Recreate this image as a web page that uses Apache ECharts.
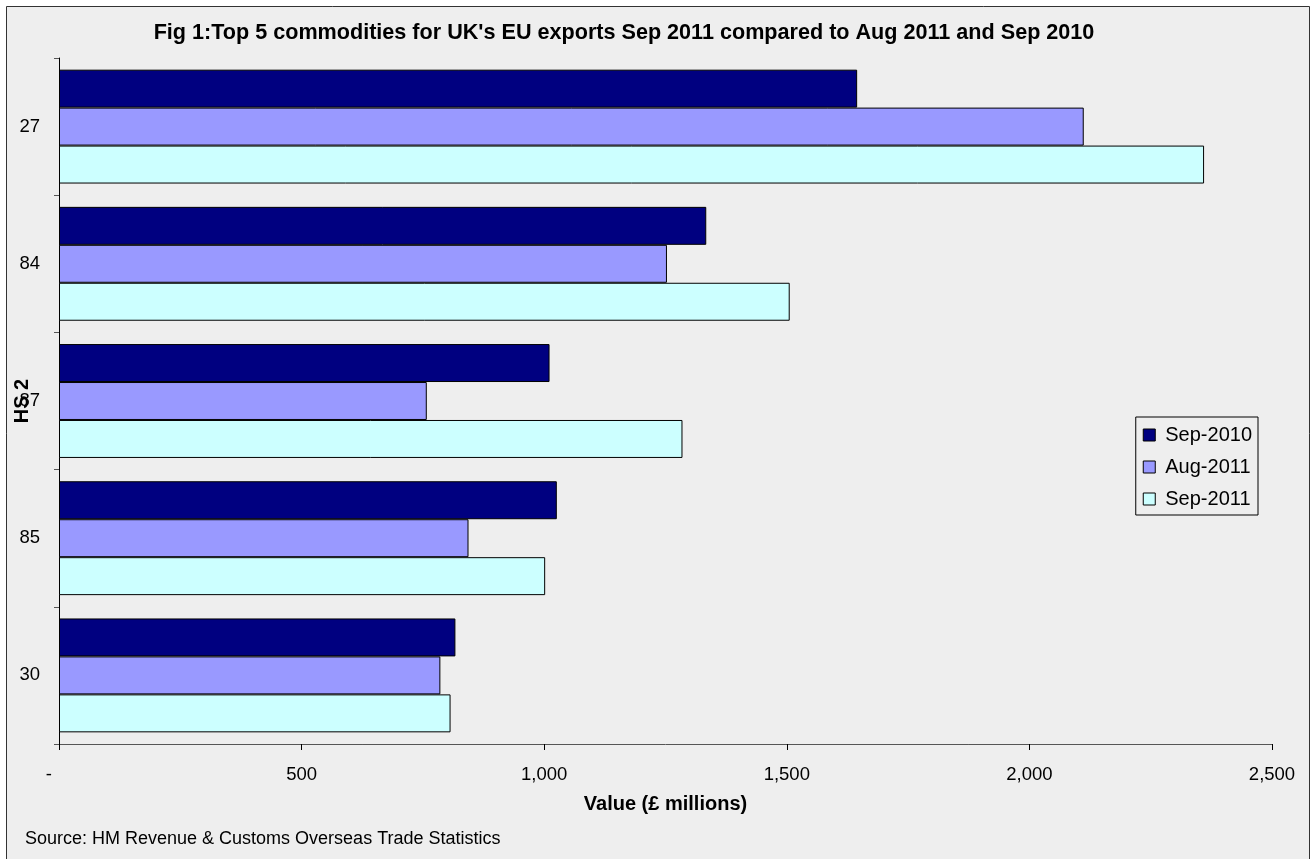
<!DOCTYPE html>
<html>
<head>
<meta charset="utf-8">
<script src="https://cdn.jsdelivr.net/npm/echarts@6/dist/echarts.min.js"></script>
<style>
html, body { margin: 0; padding: 0; background: #fff; }
#report { width: 1312px; height: 859px; }
</style>
</head>
<body>
<div id="report"></div>
<script>
// HS2 commodity codes, top to bottom
var categories = ['27', '84', '87', '85', '30'];
var seriesNames = ['Sep-2010', 'Aug-2011', 'Sep-2011'];
// values in £ millions
var sep2010 = [1645, 1334, 1011, 1026, 817];
var aug2011 = [2112, 1253, 758, 844, 786];
var sep2011 = [2360, 1506, 1285, 1002, 807];
var xTicks = [0, 500, 1000, 1500, 2000, 2500];

var colors = ['#000080', '#9999ff', '#ccffff'];
var font = 'Liberation Sans, Arial, sans-serif';

var myChart = echarts.init(document.getElementById('report'));

function makeSeries(name, data, i) {
    return {
        name: name,
        type: 'bar',
        data: data,
        barGap: '0%',
        barCategoryGap: '17%',
        itemStyle: { color: colors[i], borderColor: '#000', borderWidth: 1 },
        emphasis: { disabled: true }
    };
}

var option = {
    backgroundColor: '#ffffff',
    animation: false,
    textStyle: { fontFamily: font },
    graphic: [
        {
            type: 'rect', z: -10, silent: true,
            shape: { x: 6.5, y: 6.5, width: 1303, height: 870 },
            style: { fill: '#eeeeee', stroke: '#333', lineWidth: 1 }
        },
        {
            type: 'text', left: 25, top: 830,
            style: { text: 'Source: HM Revenue & Customs Overseas Trade Statistics', font: '18px ' + font, fill: '#000' }
        }
    ],
    title: {
        text: "Fig 1:Top 5 commodities for UK's EU exports Sep 2011 compared to Aug 2011 and Sep 2010",
        left: 619, textAlign: 'center', top: 17,
        textStyle: { fontSize: 21.6, fontWeight: 'bold', color: '#000', fontFamily: font }
    },
    legend: {
        orient: 'vertical',
        right: 54, top: 417,
        data: seriesNames,
        backgroundColor: '#eeeeee',
        borderColor: '#000', borderWidth: 1,
        padding: [8, 6, 6, 7],
        itemGap: 12,
        itemWidth: 12, itemHeight: 12,
        icon: 'rect',
        itemStyle: { borderColor: '#000', borderWidth: 1 },
        textStyle: { fontSize: 20, color: '#000', fontFamily: font, padding: [0, 0, 0, 5] }
    },
    grid: { left: 59, right: 40, top: 58, bottom: 115, containLabel: false, outerBoundsMode: 'none' },
    xAxis: {
        type: 'value',
        min: 0, max: 2500, interval: 500,
        name: 'Value (£ millions)',
        nameLocation: 'middle', nameGap: 50, nameMoveOverlap: false,
        nameTextStyle: { fontSize: 20, fontWeight: 'bold', color: '#000', fontFamily: font },
        axisLine: { show: true, lineStyle: { color: '#555', width: 1 } },
        axisTick: { show: true, length: 6, lineStyle: { color: '#000' } },
        splitLine: { show: false },
        axisLabel: {
            fontSize: 18.5, color: '#000', margin: 21, fontFamily: font,
            formatter: function (v) { return v === 0 ? '-    ' : v.toLocaleString('en-GB'); }
        }
    },
    yAxis: {
        type: 'category',
        data: categories,
        inverse: true,
        name: 'HS 2',
        nameLocation: 'middle', nameGap: 27, nameRotate: 90, nameMoveOverlap: false,
        nameTextStyle: { fontSize: 20, fontWeight: 'bold', color: '#000', fontFamily: font },
        axisLine: { show: true, lineStyle: { color: '#000', width: 1 } },
        axisTick: { show: true, length: 5, inside: false, lineStyle: { color: '#555' } },
        axisLabel: { fontSize: 18.5, color: '#000', margin: 19, fontFamily: font }
    },
    series: [
        makeSeries(seriesNames[0], sep2010, 0),
        makeSeries(seriesNames[1], aug2011, 1),
        makeSeries(seriesNames[2], sep2011, 2)
    ]
};
myChart.setOption(option);
</script>
</body>
</html>
